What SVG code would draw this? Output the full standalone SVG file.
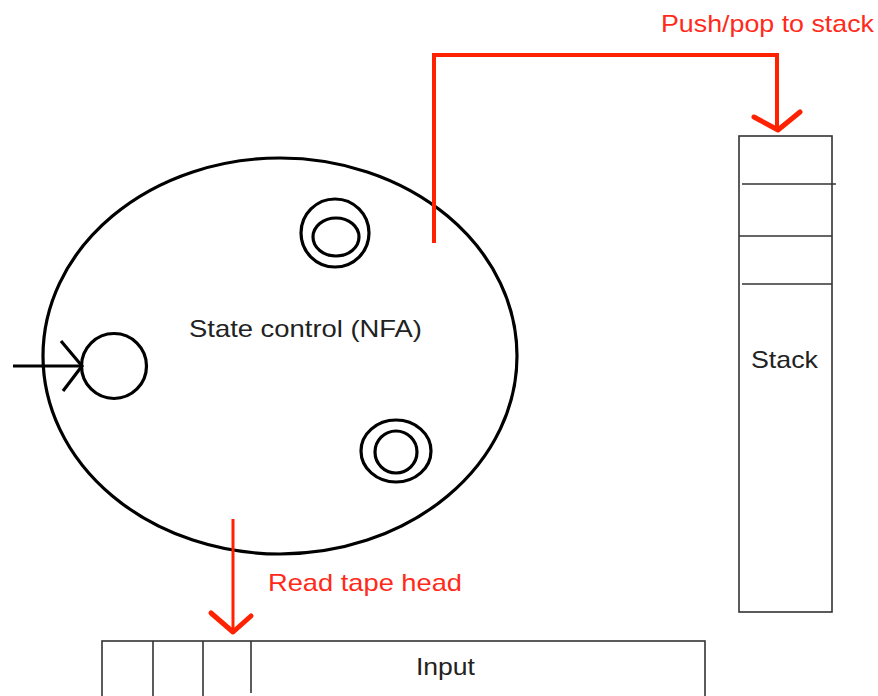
<svg xmlns="http://www.w3.org/2000/svg" width="878" height="696" viewBox="0 0 878 696">
<style>
.blk{fill:none;stroke:#000;stroke-width:3.2}
.box{fill:none;stroke:#333;stroke-width:1.6}
.red{fill:none;stroke:#ff2200;stroke-linecap:butt}
.head{fill:none;stroke:#ff2200;stroke-width:5;stroke-linecap:round;stroke-linejoin:round}
.t{font-family:"Liberation Sans",Arial,sans-serif;font-size:24px;fill:#222}
.rt{font-family:"Liberation Sans",Arial,sans-serif;font-size:24px;fill:#ff2a1a}
</style>
<rect width="878" height="696" fill="#fff"/>
<g id="state-control">
  <ellipse class="blk" cx="280" cy="356" rx="237" ry="198"/>
  <text class="t" x="189" y="337" textLength="233" lengthAdjust="spacingAndGlyphs">State control (NFA)</text>
</g>
<g id="start-state">
  <circle class="blk" cx="114" cy="366" r="32.5"/>
</g>
<g id="accept-state-1">
  <ellipse class="blk" cx="335" cy="233" rx="34" ry="34"/>
  <ellipse class="blk" cx="336" cy="237" rx="23" ry="19"/>
</g>
<g id="accept-state-2">
  <ellipse class="blk" cx="396" cy="451" rx="35" ry="31"/>
  <circle class="blk" cx="396" cy="452" r="21"/>
</g>
<g id="stack">
  <rect class="box" x="739" y="136" width="93" height="476"/>
  <line class="box" x1="742" y1="184" x2="836" y2="184"/>
  <line class="box" x1="739" y1="236" x2="832" y2="236"/>
  <line class="box" x1="742" y1="284" x2="832" y2="284"/>
  <text class="t" x="751" y="368" textLength="67" lengthAdjust="spacingAndGlyphs">Stack</text>
</g>
<g id="input">
  <rect class="box" x="102" y="641" width="603" height="70"/>
  <line class="box" x1="153" y1="641" x2="153" y2="696"/>
  <line class="box" x1="203" y1="641" x2="203" y2="696"/>
  <line class="box" x1="251" y1="641" x2="251" y2="693"/>
  <text class="t" x="416" y="675" textLength="59" lengthAdjust="spacingAndGlyphs">Input</text>
</g>
<g id="connectors">
  <line x1="13" y1="366" x2="82" y2="366" stroke="#000" stroke-width="3.2"/>
  <polyline points="61,341 82,366 63,391" fill="none" stroke="#000" stroke-width="3.2"/>
  <polyline class="red" stroke-width="4" points="434,243 434,55 777,55 777,129"/>
  <polyline class="head" points="754,117 778,130 800,112"/>
  <line class="red" stroke-width="3" x1="233" y1="519" x2="233" y2="632"/>
  <polyline class="head" points="211,613 233,632 251,616"/>
  <text class="rt" x="661" y="32" textLength="213" lengthAdjust="spacingAndGlyphs">Push/pop to stack</text>
  <text class="rt" x="268" y="591" textLength="194" lengthAdjust="spacingAndGlyphs">Read tape head</text>
</g>
</svg>
